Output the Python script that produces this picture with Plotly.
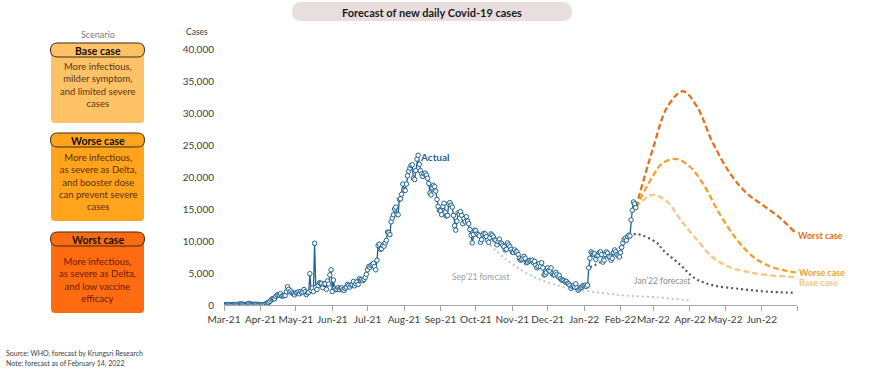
import pandas as pd
import plotly.graph_objects as go

# ---------------- data ----------------
mar21 = [60, 40, 50, 70, 60, 40, 50, 60, 80, 70, 50, 60, 100, 120, 150, 140, 110, 90, 80, 100,
         120, 260, 180, 130, 100, 80, 90, 120, 100, 80, 60]
apr21 = [40, 60, 50, 80, 100, 250, 330, 400, 560, 790, 970, 985, 965, 1330, 1540, 1580, 1550, 1770, 1390, 1440,
         1460, 1470, 2070, 2840, 2440, 2050, 2180, 1870, 1710, 1580]
may21 = [1890, 1940, 2040, 1760, 2110, 1910, 2040, 2420, 2100, 1630, 1920, 1980, 4890, 2260, 2640, 2100, 9640, 2770, 2440, 3050,
         3480, 3360, 3380, 2710, 3230, 3320, 2460, 3760, 3290, 4700, 5500]
jun21 = [2100, 3900, 2600, 2400, 2420, 2670, 2420, 2660, 2680, 2400, 2290, 2600, 2800, 3200, 3060, 2800, 3130, 3170, 3670, 3000,
         3300, 3600, 3200, 4100, 3900, 4000, 3800, 4000, 4300, 4800]
jul21 = [5500, 6000, 5900, 6200, 6300, 6500, 6000, 5500, 7000, 9300, 9500, 8700, 8800, 9300, 9200, 9700, 10100, 11400, 11300, 11000,
         13000, 13600, 14100, 15000, 15300, 14200, 14100, 16500, 16600, 17300, 18900]
aug21 = [18000, 17900, 18900, 20200, 20900, 21400, 21800, 21900, 19800, 19600, 21000, 22800, 23400, 22000, 21000, 20500, 20100, 20500, 20600, 20300,
         19800, 19000, 17500, 17200, 18300, 18700, 18500, 17800, 16500, 15400, 14800]
sep21 = [14700, 14100, 15400, 15900, 14500, 13900, 14000, 15800, 16000, 15600, 15300, 14000, 12400, 11700, 13100, 14400, 14200, 14600, 14000, 12700,
         13500, 13000, 13800, 13100, 12700, 11800, 10900, 9700, 11000, 11700]
oct21 = [11600, 11100, 11000, 10800, 9800, 10200, 11000, 11200, 11100, 10700, 10100, 9800, 10500, 11100, 10900, 10600, 10200, 10100, 9400, 9900,
         10300, 9700, 9600, 9300, 9100, 8600, 8700, 9700, 9400, 9100, 8700]
nov21 = [8300, 8200, 8600, 8300, 8300, 7900, 7300, 7000, 7100, 7300, 7600, 7300, 6600, 6700, 6900, 7000, 6900, 7000, 6600, 6800,
         6200, 5800, 6000, 6500, 6000, 6600, 5800, 4700, 4800, 5100]
dec21 = [5800, 5400, 5300, 5800, 4900, 4700, 4700, 5100, 4800, 4400, 4600, 4100, 3900, 3900, 3800, 3600, 3700, 3400, 3300, 3100,
         2600, 2900, 3000, 2800, 3300, 2700, 2300, 2500, 2700, 2800, 3000]
jan22 = [3000, 3100, 2900, 3100, 5800, 7300, 8300, 8100, 7900, 8000, 7100, 7700, 7800, 8200, 8300, 7900, 6700, 7000, 7900, 8300,
         8100, 7600, 7500, 7000, 7300, 8200, 8600, 8300, 7900, 7700, 7500]
feb22 = [8200, 9000, 9700, 10200, 10400, 10100, 10700, 10900, 10800, 13300, 14800, 16100, 15800, 15200]

actual_months = [("2021-03-01", mar21), ("2021-04-01", apr21), ("2021-05-01", may21), ("2021-06-01", jun21),
                 ("2021-07-01", jul21), ("2021-08-01", aug21), ("2021-09-01", sep21), ("2021-10-01", oct21),
                 ("2021-11-01", nov21), ("2021-12-01", dec21), ("2022-01-01", jan22), ("2022-02-01", feb22)]

sep21_dates = ["2021-10-13", "2021-10-27", "2021-11-10", "2021-11-24", "2021-12-09", "2021-12-23",
               "2022-01-06", "2022-01-20", "2022-02-03", "2022-03-04", "2022-04-01"]
sep21_vals = [9400, 7100, 5300, 4000, 3100, 2500, 2100, 1800, 1500, 1200, 700]

jan22_dates = ["2022-01-06", "2022-01-15", "2022-01-23", "2022-02-01", "2022-02-10", "2022-02-14", "2022-03-04",
               "2022-03-09", "2022-03-24", "2022-04-05", "2022-04-20", "2022-05-14", "2022-06-05", "2022-06-30"]
jan22_vals = [5900, 6700, 7800, 9100, 10600, 11100, 9700, 8600, 6250, 4200, 3100, 2500, 2100, 1900]

base_dates = ["2022-02-14", "2022-02-28", "2022-03-13", "2022-03-24", "2022-04-07", "2022-04-20",
              "2022-05-05", "2022-05-19", "2022-06-05", "2022-06-27", "2022-06-30"]
base_vals = [15200, 17200, 16100, 13300, 10200, 7500, 5900, 5200, 4700, 4400, 4350]

worse_dates = ["2022-02-14", "2022-03-01", "2022-03-09", "2022-03-21", "2022-04-01", "2022-04-12",
               "2022-04-26", "2022-05-11", "2022-05-25", "2022-06-10", "2022-06-30"]
worse_vals = [15200, 20300, 22200, 22800, 21600, 19000, 14300, 10200, 7500, 5900, 5100]

worst_dates = ["2022-02-14", "2022-03-01", "2022-03-13", "2022-03-26", "2022-04-07", "2022-04-20",
               "2022-05-05", "2022-05-19", "2022-06-02", "2022-06-16", "2022-06-29"]
worst_vals = [15200, 24700, 31000, 33400, 31000, 25500, 20600, 17500, 15600, 13700, 11400]

tick_labels = ["Mar-21", "Apr-21", "May-21", "Jun-21", "Jul-21", "Aug-21", "Sep-21", "Oct-21", "Nov-21",
               "Dec-21", "Jan-22", "Feb-22", "Mar-22", "Apr-22", "May-22", "Jun-22", ""]

# ---------------- build ----------------
act_x, act_y = [], []
for start, vals in actual_months:
    act_x += list(pd.date_range(start, periods=len(vals), freq="D"))
    act_y += vals

FONT = "Lato"
BLUE = "#1f6391"
fig = go.Figure()

def fc(x, y, color, dash, width, name):
    fig.add_trace(go.Scatter(x=x, y=y, mode="lines", name=name,
                             line=dict(color=color, dash=dash, width=width, shape="spline", smoothing=1.0),
                             hoverinfo="skip"))

fc(sep21_dates, sep21_vals, "#c3c0c0", "2px,3px", 1.8, "Sep'21 forecast")
fc(jan22_dates, jan22_vals, "#5a5555", "2px,3px", 2.2, "Jan'22 forecast")
fc(base_dates, base_vals, "#f7c684", "6px,3px", 2.3, "Base case")
fc(worse_dates, worse_vals, "#f0a030", "6px,3px", 2.3, "Worse case")
fc(worst_dates, worst_vals, "#e2711d", "6px,3px", 2.3, "Worst case")

fig.add_trace(go.Scatter(x=act_x, y=act_y, mode="lines+markers", name="Actual",
                         line=dict(color=BLUE, width=1.3),
                         marker=dict(size=4.5, color="#ffffff", line=dict(color=BLUE, width=1)),
                         hoverinfo="skip"))

PL, PR, PT, PB = 224, 797, 49, 305
def px(x): return (x - PL) / (PR - PL)
def py(y): return (PB - y) / (PB - PT)

def rrect(x0, y0, x1, y1, r):
    pts = [("M", x0 + r, y0), ("L", x1 - r, y0), ("Q", x1, y0, x1, y0 + r), ("L", x1, y1 - r),
           ("Q", x1, y1, x1 - r, y1), ("L", x0 + r, y1), ("Q", x0, y1, x0, y1 - r), ("L", x0, y0 + r),
           ("Q", x0, y0, x0 + r, y0)]
    s = ""
    for p in pts:
        cmd = p[0]
        coords = p[1:]
        parts = []
        for i in range(0, len(coords), 2):
            parts.append(f"{px(coords[i]):.5f},{py(coords[i+1]):.5f}")
        s += cmd + " ".join(parts) + " "
    return s + "Z"

shapes = []
def add_shape(path, fill, line=None, lw=0):
    shapes.append(dict(type="path", path=path, xref="paper", yref="paper", fillcolor=fill,
                       line=dict(color=line if line else fill, width=lw), layer="above"))

# title pill
add_shape(rrect(292, 2, 572, 21, 9.5), "#e8dede")

boxes = [
    (43, 57, 123, "#ffc266", "Base case", "More infectious,<br>milder symptom,<br>and limited severe<br>cases", "#5a3510", 85),
    (133, 147, 221, "#ffa41c", "Worse case", "More infectious,<br>as severe as Delta,<br>and booster dose<br>can prevent severe<br>cases", "#5e2c00", 182),
    (232, 246, 313, "#ff6b10", "Worst case", "More infectious,<br>as severe as Delta,<br>and low vaccine<br>efficacy", "#6a1a00", 279.5),
]
annotations = []
for htop, hbot, bbot, col, head, body, tcol, bcy in boxes:
    add_shape(rrect(51, (htop + hbot) / 2, 144, bbot, 4), col)
    add_shape(rrect(50.5, htop, 144.5, hbot, 7), col, "#3a2a1a", 1)
    annotations.append(dict(x=px(97.5), y=py((htop + hbot) / 2 + 0.5), text=f"<b>{head}</b>",
                            font=dict(family=FONT, size=10.5, color="#111111")))
    annotations.append(dict(x=px(97.5), y=py(bcy), text=body, align="center",
                            font=dict(family=FONT, size=9.5, color=tcol)))

def ann(x, y, text, size, color, xanchor="left", bold=False):
    annotations.append(dict(x=px(x), y=py(y), text=f"<b>{text}</b>" if bold else text, xanchor=xanchor,
                            font=dict(family=FONT, size=size, color=color)))

ann(432, 12, "Forecast of new daily Covid-19 cases", 11, "#1a1a1a", "center", True)
ann(97.5, 34, "Scenario", 9, "#808080", "center")
ann(184, 32, "Cases", 8.5, "#404040")
ann(418, 157, "Actual", 10, BLUE, bold=True)
ann(450, 277, "Sep’21 forecast", 8.5, "#a0a0a0")
ann(632, 281, "Jan’22 forecast", 8.5, "#909090")
ann(796, 235, "Worst case", 9, "#e2711d", bold=True)
ann(797, 272, "Worse case", 9, "#f0a030", bold=True)
ann(797, 282, "Base case", 9, "#f7c684", bold=True)
ann(4, 353, "Source: WHO, forecast by Krungsri Research", 7, "#404040")
ann(4, 363, "Note: forecast as of February 14, 2022", 7, "#404040")

for a in annotations:
    a.update(xref="paper", yref="paper", showarrow=False, yanchor="middle")
    a.setdefault("xanchor", "center")

tick_vals = list(pd.date_range("2021-03-01", "2022-07-01", freq="MS"))

fig.update_layout(
    width=870, height=373, autosize=False,
    margin=dict(l=PL, r=870 - PR, t=PT, b=373 - PB, pad=0),
    paper_bgcolor="white", plot_bgcolor="white",
    showlegend=False,
    font=dict(family=FONT, size=10, color="#404040"),
    shapes=shapes, annotations=annotations,
    xaxis=dict(type="date", range=["2021-03-01", "2022-07-01"], tickvals=tick_vals, ticktext=tick_labels,
               tickangle=0, automargin=False,
               ticks="outside", ticklen=5, tickcolor="#a6a6a6", showline=True, linecolor="#a6a6a6",
               linewidth=1, showgrid=False, zeroline=False, tickfont=dict(family=FONT, size=10, color="#404040")),
    yaxis=dict(range=[0, 40000], dtick=5000, tickformat=",", showgrid=False, showline=False, zeroline=False,
               automargin=False,
               ticks="", ticklabelstandoff=9, tickfont=dict(family=FONT, size=10, color="#404040")),
)

fig.write_html("out.html", config={"displayModeBar": False},
               post_script="document.body.style.margin='0';document.body.style.overflow='hidden';")
